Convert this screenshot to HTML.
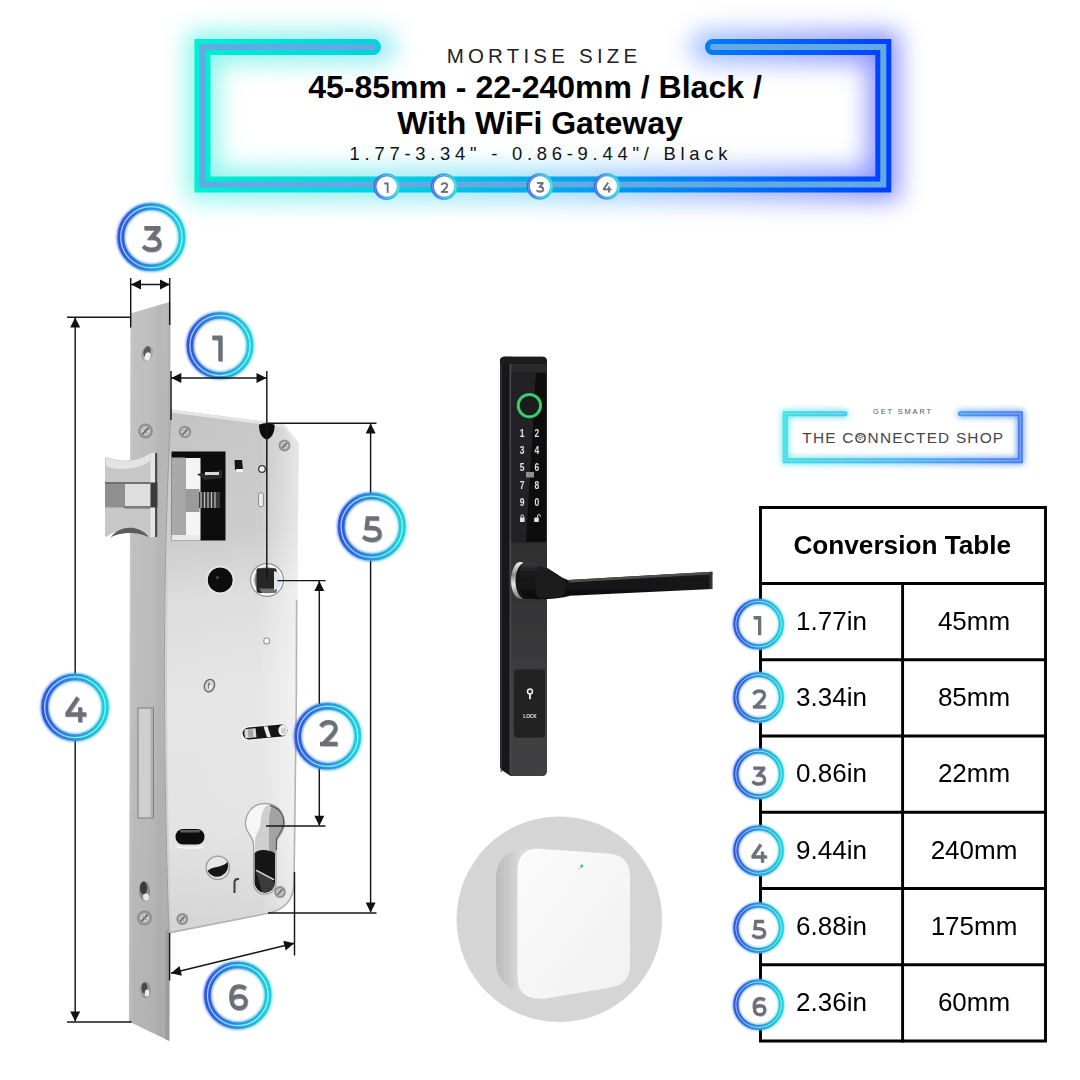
<!DOCTYPE html>
<html>
<head>
<meta charset="utf-8">
<title>Mortise Size</title>
<style>
html,body{margin:0;padding:0;background:#fff;}
body{width:1080px;height:1080px;position:relative;overflow:hidden;font-family:"Liberation Sans",sans-serif;color:#000;}
#gfx{position:absolute;left:0;top:0;width:1080px;height:1080px;}
.t{position:absolute;white-space:nowrap;line-height:1;}
.c{text-align:center;}
#h1{left:446.7px;top:45.5px;font-size:20.5px;letter-spacing:4.2px;color:#222;text-align:left;}
#h2{left:240px;width:590px;top:70.9px;font-size:32px;font-weight:bold;}
#h3{left:245px;width:590px;top:106.7px;font-size:32px;font-weight:bold;}
#h4{left:349.6px;top:144.8px;font-size:18.4px;letter-spacing:4.75px;color:#111;text-align:left;}
/* table */
#tbl{position:absolute;left:759px;top:506px;width:288px;height:536px;}
.ln{position:absolute;background:#000;}
.cell{font-size:26px;}
#th{left:793.4px;top:531.6px;font-size:26.2px;font-weight:bold;}
#lg1{left:842px;width:122px;top:407.5px;font-size:7.4px;letter-spacing:1.9px;color:#555;}
#lg2{left:790.3px;width:226px;top:430px;font-size:15.4px;letter-spacing:1.2px;color:#454545;}
</style>
</head>
<body>
<svg id="gfx" viewBox="0 0 1080 1080" width="1080" height="1080">
<defs>
  <linearGradient id="gF" gradientUnits="userSpaceOnUse" x1="195" y1="0" x2="891" y2="0">
    <stop offset="0" stop-color="#00f0d2"/>
    <stop offset="0.35" stop-color="#00c8e4"/>
    <stop offset="0.65" stop-color="#0090f2"/>
    <stop offset="1" stop-color="#0040ff"/>
  </linearGradient>
  <linearGradient id="gFg" gradientUnits="userSpaceOnUse" x1="195" y1="0" x2="891" y2="0">
    <stop offset="0" stop-color="#6ff5e6"/>
    <stop offset="0.45" stop-color="#7fdcf5"/>
    <stop offset="0.75" stop-color="#8aaaff"/>
    <stop offset="1" stop-color="#6f78ff"/>
  </linearGradient>
  <filter id="blur12" x="-20%" y="-40%" width="140%" height="180%"><feGaussianBlur stdDeviation="12.5"/></filter>
  <filter id="blur4" x="-20%" y="-40%" width="140%" height="180%"><feGaussianBlur stdDeviation="4"/></filter>

  <linearGradient id="gR" gradientUnits="userSpaceOnUse" x1="-35" y1="0" x2="35" y2="0">
    <stop offset="0" stop-color="#2c55e2"/>
    <stop offset="0.5" stop-color="#2b96df"/>
    <stop offset="1" stop-color="#24d2de"/>
  </linearGradient>
  <linearGradient id="gRl" gradientUnits="userSpaceOnUse" x1="-35" y1="0" x2="35" y2="0">
    <stop offset="0" stop-color="#a8c4ff"/>
    <stop offset="0.5" stop-color="#9fe6ff"/>
    <stop offset="1" stop-color="#8dffff"/>
  </linearGradient>
  <filter id="rb" x="-30%" y="-30%" width="160%" height="160%"><feGaussianBlur stdDeviation="1.6"/></filter>
  <filter id="rb2" x="-30%" y="-30%" width="160%" height="160%"><feGaussianBlur stdDeviation="0.7"/></filter>
  <g id="ring">
    <circle r="36" fill="#fff"/>
    <circle r="31" fill="none" stroke="url(#gR)" stroke-width="9.5" filter="url(#rb)" opacity="0.75"/>
    <circle r="31" fill="none" stroke="url(#gR)" stroke-width="6.6" filter="url(#rb2)"/>
    <circle r="31" fill="none" stroke="url(#gRl)" stroke-width="1.1"/>
  </g>
  <!-- digits: 100-unit cap height, origin top-left; stroke paths -->
  <g id="d1" fill="none" stroke-width="17" stroke-linejoin="miter" stroke-linecap="butt"><path d="M0 8.5 H34 V100"/></g>
  <g id="d2" fill="none" stroke-width="16.5" stroke-linejoin="miter" stroke-linecap="butt"><path d="M6 24 C14 12 26 7.5 40 7.5 C58 7.5 69 16 69 29 C69 39 63 47 52 58 L17 91.8 M3 91.8 H77"/></g>
  <g id="d3" fill="none" stroke-width="16.5" stroke-linejoin="miter" stroke-linecap="butt"><path d="M7 8.2 H66 V12 L36 45.5 H39 C60 45.5 71.5 55 71.5 69.5 C71.5 84 58 92.5 38 92.5 C23 92.5 10 87.5 2 79.5"/></g>
  <g id="d4" fill="none" stroke-width="16.5" stroke-linejoin="miter" stroke-linecap="butt"><path d="M53.5 4 L8 66 V70 H88 M62.5 42 V100"/></g>
  <g id="d5" fill="none" stroke-width="16.5" stroke-linejoin="miter" stroke-linecap="butt"><path d="M68 8.2 H20.5 L16 45.5 H36 C60 45.5 72 54.5 72 69.5 C72 84 58 92.5 38 92.5 C23 92.5 10 87.5 2 79.5"/></g>
  <g id="d6" fill="none" stroke-width="16.5" stroke-linejoin="miter" stroke-linecap="butt"><path d="M70 15 C62 9.5 53 7.5 43 7.5 C20 7.5 9 24 9 51 C9 78 22 92.5 43 92.5 C60 92.5 71 82.5 71 68.5 C71 54 60 45.5 44 45.5 C26 45.5 12 54 10 66"/></g>
</defs>

<!-- HEADER FRAME -->
<g id="frame">
  <path d="M380 47 H202.5 V184.5 H883.3 V47 H706" fill="none" stroke="url(#gFg)" stroke-width="32" stroke-linecap="round" stroke-linejoin="miter" filter="url(#blur12)" opacity="0.8"/>
  <path d="M373 47 H202.5 V184.5 H883.3 V47 H713" fill="none" stroke="url(#gF)" stroke-width="16" stroke-linecap="round" stroke-linejoin="miter"/>
  <path d="M373 47 H202.5 V184.5 H883.3 V47 H713" fill="none" stroke="#63a9e4" stroke-width="6" stroke-linecap="round" stroke-linejoin="miter"/>
</g>
<!-- MORTISE LOCK -->
<defs>
  <linearGradient id="gFaceV" x1="0" y1="0" x2="0" y2="1"><stop offset="0" stop-color="#000" stop-opacity="0"/><stop offset="0.5" stop-color="#000" stop-opacity="0.02"/><stop offset="1" stop-color="#000" stop-opacity="0.07"/></linearGradient>
  <linearGradient id="gFace" x1="0" y1="0" x2="1" y2="0">
    <stop offset="0" stop-color="#cdcdcd"/><stop offset="0.1" stop-color="#c2c2c2"/><stop offset="0.6" stop-color="#bebebe"/><stop offset="0.72" stop-color="#b7b7b7"/><stop offset="0.9" stop-color="#bababa"/><stop offset="1" stop-color="#adadad"/>
  </linearGradient>
  <linearGradient id="gBodyH" gradientUnits="userSpaceOnUse" x1="170" y1="0" x2="299" y2="0"><stop offset="0" stop-color="#fff" stop-opacity="0"/><stop offset="0.7" stop-color="#fff" stop-opacity="0.05"/><stop offset="1" stop-color="#fff" stop-opacity="0.55"/></linearGradient>
  <linearGradient id="gBody" gradientUnits="userSpaceOnUse" x1="200" y1="410" x2="240" y2="930">
    <stop offset="0" stop-color="#c4c4c4"/><stop offset="0.24" stop-color="#cbcbcb"/><stop offset="0.36" stop-color="#dddddd"/><stop offset="0.55" stop-color="#e5e5e5"/><stop offset="0.8" stop-color="#e3e3e3"/><stop offset="1" stop-color="#d4d4d4"/>
  </linearGradient>
  <linearGradient id="gLatch" x1="0" y1="0" x2="0" y2="1">
    <stop offset="0" stop-color="#d8d8d8"/><stop offset="0.45" stop-color="#bdbdbd"/><stop offset="0.55" stop-color="#c9c9c9"/><stop offset="1" stop-color="#a9a9a9"/>
  </linearGradient>
  <radialGradient id="gScrew"><stop offset="0" stop-color="#f2f2f2"/><stop offset="0.6" stop-color="#c8c8c8"/><stop offset="1" stop-color="#8f8f8f"/></radialGradient>
  <filter id="soft" x="-10%" y="-10%" width="120%" height="120%"><feGaussianBlur stdDeviation="0.6"/></filter>
  <g id="screw"><circle r="6.2" fill="#8f8f8f"/><circle r="5" fill="url(#gScrew)"/><path d="M-2.6 2.8 L2.6 -2.8" stroke="#6a6a6a" stroke-width="1.7" fill="none"/><path d="M-1.6 -1.8 L1.6 1.8" stroke="#8a8a8a" stroke-width="1.1" fill="none"/></g>
  <g id="chole"><ellipse rx="6.2" ry="9" fill="#a8a8a8"/><ellipse cx="-0.8" cy="-1.8" rx="3.8" ry="6" fill="#5a5a5a"/><ellipse cx="1.4" cy="3" rx="3" ry="4.6" fill="#f0f0f0"/></g>
  <path id="ah" d="M0 0 L-10 -5 L-10 5 Z" fill="#111"/>
</defs>
<g id="mortise" filter="url(#soft)">
  <!-- faceplate -->
  <path d="M130.4 313.6 L170.5 301.8 L169.3 1041 L128.9 1021.5 Z" fill="url(#gFace)"/>
  <path d="M130.4 313.6 L170.5 301.8 L169.3 1041 L128.9 1021.5 Z" fill="url(#gFaceV)"/>
  <path d="M165.2 930 L169.4 930 L169.3 1041 L165.2 1039 Z" fill="#999" opacity="0.85"/>
  <!-- body -->
  <path d="M171 409.5 L256 420.5 L283 424 L298.5 443.5 L297 700 L294.6 884 C294 901 284 910.5 268 914 L169.4 933.5 C167 880 165 800 164.5 700 C164 600 166 500 171 409.5 Z" fill="url(#gBody)"/>
  <path d="M171 409.5 L256 420.5 L283 424 L298.5 443.5 L297 700 L294.6 884 C294 901 284 910.5 268 914 L169.4 933.5 C167 880 165 800 164.5 700 C164 600 166 500 171 409.5 Z" fill="url(#gBodyH)"/>
  <path d="M170 411 L256 422 L283 425.5 L297.5 444" fill="none" stroke="#e4e4e4" stroke-width="3"/>
  <path d="M172 452 C167.5 520 165.8 600 166 700 C166.5 800 168.5 880 170.3 931" fill="none" stroke="#cfcfcf" stroke-width="2.2" opacity="0.9"/>
  <path d="M171 410 C166 500 164 600 164.5 700 C165 800 167 880 169.2 933" fill="none" stroke="#9f9f9f" stroke-width="1"/>
  <path d="M296.6 600 L296.3 700 L294 884 C293.4 900.5 283.5 909.8 268 913.3 L169.8 932.6" fill="none" stroke="#b4b4b4" stroke-width="1.6"/>
  <!-- latch bolt -->
  <g id="latch">
   <path d="M105 458.5 Q105 456.5 107 457.2 C118 462 138 462 150 453 L157.3 453 V536.8 L150 536.8 C138 527 118 528 107 536.5 Q105 537.2 105 535 Z" fill="#c7c7c7"/>
   <path d="M106 457.5 C118 463 138 462.5 150 453.5 L150 461 C138 470 118 470.5 106 466.5 Z" fill="#e3e3e3"/>
   <rect x="105" y="482.5" width="46" height="25" fill="#8f8f8f"/>
   <rect x="125" y="484" width="25.5" height="22.5" fill="#dedede"/>
   <rect x="105" y="482" width="46" height="2" fill="#707070"/>
   <rect x="124" y="506" width="27" height="2.6" fill="#7a7a7a"/>
   <path d="M111 537 C120 525.5 138 524.5 148 536 L148 537 C138 531.5 120 532 111 537.5Z" fill="#5c5c5c"/>
   <rect x="150.5" y="453" width="4.6" height="84" fill="#e6e6e6"/>
   <rect x="155" y="453" width="2.3" height="84" fill="#4d4d4d"/>
   <rect x="150.5" y="482.5" width="6.8" height="25" fill="#3a3a3a"/>
  </g>
  <!-- deadbolt slot in faceplate -->
  <rect x="138" y="708" width="15.5" height="110" fill="#cfcfcf" stroke="#7d7d7d" stroke-width="1"/>
  <rect x="150.5" y="709" width="2.5" height="108" fill="#b0b0b0"/>
  <!-- faceplate screws/holes -->
  <use href="#chole" transform="translate(147.2 353.5) rotate(18) scale(0.92)"/>
  <use href="#screw" transform="translate(145.5 431) scale(1.2)"/>
  <ellipse cx="144.5" cy="891" rx="5.5" ry="10" fill="#8a8a8a"/><ellipse cx="143.5" cy="888" rx="3.6" ry="6.5" fill="#3a3a3a"/><ellipse cx="146" cy="897" rx="3" ry="3.4" fill="#e8e8e8"/>
  <use href="#screw" transform="translate(144.5 918) scale(1.2)"/>
  <ellipse cx="145.5" cy="990" rx="5.5" ry="8.5" fill="#9a9a9a"/><ellipse cx="144.5" cy="988" rx="3" ry="5.5" fill="#4a4a4a"/><ellipse cx="147" cy="993" rx="2.2" ry="3.6" fill="#ececec"/>
  <!-- big opening -->
  <rect x="171.5" y="451.5" width="54" height="89" fill="#0c0c0c"/>
  <rect x="171.5" y="457.5" width="14" height="78" fill="#a9a9a9"/>
  <rect x="185.5" y="458" width="15" height="77" fill="#f4f4f4"/>
  <rect x="185.5" y="489" width="14" height="23" fill="#9b9b9b"/>
  <rect x="199" y="492" width="21" height="16" fill="#3a3a3a"/>
  <path d="M201 492 V508 M204.5 492 V508 M208 492 V508 M211.5 492 V508 M215 492 V508" stroke="#bdbdbd" stroke-width="1.2"/>
  <path d="M197 474 L222 470 L222 478 L205 480 Z" fill="#2a2a2a"/>
  <rect x="205" y="472" width="14" height="3" fill="#d9d9d9"/>
  <rect x="171.5" y="535" width="29" height="5.5" fill="#e9e9e9"/>
  <!-- small holes -->
  <path d="M234.5 460 H242 L243 470 H235 Z" fill="#161616"/><path d="M236 469 H243 V472 H236.5Z" fill="#efefef"/>
  <circle cx="262" cy="469" r="3.3" fill="#f2f2f2" stroke="#3b3b3b" stroke-width="1.3"/>
  <rect x="258.5" y="493" width="4.8" height="13.5" rx="1" fill="#ececec" stroke="#8d8d8d" stroke-width="1"/>
  <!-- body screws -->
  <use href="#screw" transform="translate(185 432)"/>
  <use href="#screw" transform="translate(284.5 445.5) scale(0.95)"/>
  <g transform="translate(209.4 685.6) rotate(20)"><ellipse rx="5" ry="6.4" fill="#d4d4d4" stroke="#6a6a6a" stroke-width="1.4"/><path d="M-1.4 -2.6 L0.6 3" stroke="#808080" stroke-width="1.8"/><ellipse cx="1.6" cy="1" rx="1.4" ry="2.4" fill="#f4f4f4"/></g>
  <use href="#screw" transform="translate(182.3 919) scale(0.95)"/>
  <use href="#screw" transform="translate(280 892) scale(0.95)"/>
  <circle cx="266.7" cy="641" r="3" fill="#f6f6f6" stroke="#9a9a9a" stroke-width="1.1"/>
  <!-- top notch -->
  <path d="M259 424.8 Q266.7 421.2 274.6 424.8 C274.8 433 271.5 438.3 266.8 439.6 C262 438.3 258.8 433 259 424.8 Z" fill="#111"/>
  <!-- follower hole -->
  <circle cx="220.2" cy="580" r="12.5" fill="#0d0d0d"/><circle cx="217.5" cy="577.5" r="1.6" fill="#4a4a4a"/>
  <!-- spindle hub -->
  <circle cx="267" cy="580" r="16.4" fill="#f7f7f7" stroke="#8e8e8e" stroke-width="1.1"/>
  <circle cx="267" cy="580" r="13.2" fill="#8a8a8a"/>
  <circle cx="267" cy="580" r="13.2" fill="none" stroke="#d9d9d9" stroke-width="1"/>
  <path d="M258 568.2 H274.5 Q276.5 568.2 276.5 570.2 V590 Q276.5 593 273.5 593 H260 Q256.5 593 256.5 590 V570.2 Q256.5 568.2 258 568.2Z" fill="#262626"/>
  <path d="M259 588.5 H276.5 V591 Q276.5 593 273.5 593 H262Z" fill="#6f6f6f"/>
  <path d="M274 571 Q281.5 573 281.5 580 Q281.5 588 274 590 Z" fill="#dfe6f0"/>
  <circle cx="220.2" cy="580" r="13.4" fill="none" stroke="#e9e9e9" stroke-width="1.4"/>
  <!-- slot with lever -->
  <g transform="rotate(-5 265 732)">
  <rect x="240.8" y="724.6" width="48.4" height="14.8" rx="7.4" fill="#f2f2f2"/>
  <rect x="242.6" y="726" width="45" height="12" rx="6" fill="#151515"/>
  <path d="M245 727.5 H256 V736.5 H245 Q243.5 732 245 727.5Z" fill="#dadada"/>
  <rect x="248" y="728" width="5" height="8" fill="#a5a5a5"/>
  <path d="M264 726.5 L268 726.5 L270.5 737.5 L266.5 737.5Z" fill="#ececec"/>
  <ellipse cx="283" cy="732" rx="4.6" ry="5.4" fill="#f3f3f3"/>
  <ellipse cx="283.6" cy="732.4" rx="2.6" ry="3.4" fill="#d0d0d0"/>
  </g>
  <!-- small black slot -->
  <rect x="175.5" y="829" width="29" height="15.5" rx="7.5" fill="#101010"/>
  <rect x="180" y="830" width="20" height="2.6" rx="1.3" fill="#5a5a5a"/>
  <!-- round hole -->
  <circle cx="217.8" cy="867.8" r="12.3" fill="#9a9a9a"/>
  <circle cx="217.8" cy="867.8" r="11" fill="#e6e6e6"/>
  <path d="M207.5 871 C212 866 222 868 227.5 862 A11 11 0 0 1 207.5 871Z" fill="#141414"/>
  <path d="M234.5 893 V882.5 Q234.5 878.5 239 879" fill="none" stroke="#3a3a3a" stroke-width="2"/>
  <!-- euro cylinder hole -->
  <path d="M265.2 803.5 A19.3 19.3 0 0 1 281.5 833 C277.5 837.5 276 841 276 846 V883 A11.2 11.2 0 0 1 253.6 883 V846 C253.6 841 252 837.5 248.5 833 A19.3 19.3 0 0 1 265.2 803.5 Z" fill="#f6f6f6" stroke="#a2a2a2" stroke-width="1.3"/>
  <path d="M268 805 C277 806.5 283 813.5 283 822 C283 829 279 833 276 838.5 V852 H255 V841 C255 835 259 831 260.5 825 C261 815 262.5 808 268 805Z" fill="#cfcfcf"/>
  <path d="M272 806.5 C279 809.5 283 815 283 822 C283 829 279 833 276 838.5 V852 L269 852 V828 C269 818 269.5 811 272 806.5Z" fill="#a3a3a3"/>
  <path d="M270 805.5 C279.5 808 284 815 283.6 823 C283 830 279 834 276.4 839 V850" fill="none" stroke="#5a5a5a" stroke-width="1.3"/>
  <path d="M254.6 853 C259 848 270 850 275 853 V882.5 A10.2 10.2 0 0 1 254.6 882.5Z" fill="#121212"/>
  <path d="M256 872 C262 874 269 878 274 882 A9.4 9.4 0 0 1 262 892 Z" fill="#3a3a3a"/>
  <path d="M256.5 870.5 L273.5 879.5" stroke="#cfcfcf" stroke-width="1.6" stroke-linecap="round"/>
  <path d="M176 846.5 Q190 849.5 204 846.5" fill="none" stroke="#f4f4f4" stroke-width="2"/>
</g>
<!-- DIMENSIONS -->
<g id="dims" stroke="#161616" stroke-width="1.45" fill="none">
  <path d="M130.7 278 V327.4 M169.7 278 V325 M131 284.4 H170"/>
  <path d="M67 317.3 H130.5 M67 1022 H131.5 M75.2 318 V1021"/>
  <path d="M171 371 V420 M266.8 371 V579"/>
  <path d="M267 423.3 H376.5 M268 913 H376.5 M370.6 424 V912"/>
  <path d="M277.5 580.6 H325.5 M266 826 H325.5 M319.3 581 V825"/>
  <path d="M169.6 933 V980.5 M294.5 872 V955.5 M171 973.3 L294.2 943.3"/>
</g>
<g id="arrows">
  <use href="#ah" transform="translate(131 284.4) rotate(180)"/><use href="#ah" transform="translate(170 284.4)"/>
  <use href="#ah" transform="translate(75.2 317.6) rotate(-90)"/><use href="#ah" transform="translate(75.2 1021.6) rotate(90)"/>
  
  <use href="#ah" transform="translate(370.6 423.6) rotate(-90)"/><use href="#ah" transform="translate(370.6 912.6) rotate(90)"/>
  <use href="#ah" transform="translate(319.3 581) rotate(-90)"/><use href="#ah" transform="translate(319.3 825.7) rotate(90)"/>
  <use href="#ah" transform="translate(171 973.3) rotate(166.3)"/><use href="#ah" transform="translate(294.2 943.3) rotate(-13.7)"/>
</g>
<!-- SMART LOCK -->
<defs>
  <linearGradient id="gSL" x1="0" y1="0" x2="1" y2="0"><stop offset="0" stop-color="#4a4b4e"/><stop offset="0.08" stop-color="#2c2d30"/><stop offset="0.2" stop-color="#3b3c3f"/><stop offset="1" stop-color="#2e2f32"/></linearGradient>
  <linearGradient id="gSLv" x1="0" y1="0" x2="0" y2="1"><stop offset="0" stop-color="#2a2a2c"/><stop offset="0.5" stop-color="#303032"/><stop offset="0.75" stop-color="#3b3b3d"/><stop offset="1" stop-color="#414143"/></linearGradient>
  <linearGradient id="gLever" x1="0" y1="0" x2="0" y2="1"><stop offset="0" stop-color="#3a3a3c"/><stop offset="0.25" stop-color="#1c1c1e"/><stop offset="1" stop-color="#0c0c0d"/></linearGradient>
  <linearGradient id="gChrome" x1="0" y1="0" x2="0" y2="1"><stop offset="0" stop-color="#f4f4f4"/><stop offset="0.35" stop-color="#8a8a8a"/><stop offset="0.6" stop-color="#e8e8e8"/><stop offset="1" stop-color="#6e6e6e"/></linearGradient>
</defs>
<g id="smartlock" filter="url(#soft)">
  <rect x="500" y="356.7" width="47" height="419.3" rx="4.5" fill="url(#gSLv)"/>
  <path d="M504.5 356.7 H511 V776 H504.5 Q500 776 500 771.5 V361.2 Q500 356.7 504.5 356.7Z" fill="#19191a"/><path d="M499 767 H500 Q500.6 769.6 503 771 L511.5 776.4 V778 H499Z" fill="#fff"/>
  <rect x="509.6" y="360" width="1.6" height="414" fill="#4b4b4d"/>
  <rect x="500.6" y="362" width="1.2" height="410" fill="#3a3a3c"/>
  <path d="M504 356.7 H542.5 Q547 356.7 547 361.2 V364 H500 V361.2 Q500 356.7 504 356.7Z" fill="#1c1c1d"/>
  <rect x="511.7" y="372.8" width="34.4" height="169.5" rx="1" fill="#0a0a0b"/>
  <path d="M511.7 372.8 H536 L526 542.3 H511.7Z" fill="#242425"/>
  <!-- fingerprint -->
  <circle cx="529.4" cy="405.6" r="11.2" fill="#1b1b1c" stroke="#2bc566" stroke-width="3"/>
  <circle cx="529.4" cy="405.6" r="11.2" fill="none" stroke="#5fe08f" stroke-width="0.9" opacity="0.7"/>
  <!-- keypad -->
  <g font-family="Liberation Sans, sans-serif" font-size="10.4" fill="#e2e2e2" text-anchor="middle" font-weight="bold">
    <g transform="translate(522.2 0) scale(0.82 1)"><text x="0" y="437.1">1</text><text x="0" y="454.4">3</text><text x="0" y="471.5">5</text><text x="0" y="488.7">7</text><text x="0" y="505.7">9</text></g>
    <g transform="translate(536.8 0) scale(0.82 1)"><text x="0" y="437.1">2</text><text x="0" y="454.4">4</text><text x="0" y="471.5">6</text><text x="0" y="488.7">8</text><text x="0" y="505.7">0</text></g>
  </g>
  <rect x="526" y="472" width="8" height="5.5" fill="#8f8f8f"/>
  <rect x="520" y="517.5" width="4.6" height="4.6" rx="0.6" fill="#e0e0e0"/><path d="M521 517.8 V516.2 A1.3 1.3 0 0 1 523.6 516.2 V517.8" fill="none" stroke="#e0e0e0" stroke-width="1"/>
  <rect x="534.2" y="517.5" width="4.6" height="4.6" rx="0.6" fill="#e0e0e0"/><path d="M537.6 517.6 V515.8 A1.3 1.3 0 0 1 540.2 515.8 V516.8" fill="none" stroke="#e0e0e0" stroke-width="1"/>
  <!-- bottom panel -->
  <rect x="514" y="669.5" width="31" height="68" rx="3" fill="#212123"/>
  <circle cx="530" cy="691.5" r="2.5" fill="#333" stroke="#f0f0f0" stroke-width="1.4"/><rect x="529.1" y="694" width="1.8" height="5.2" fill="#f0f0f0"/>
  <text x="530" y="718.2" font-family="Liberation Sans, sans-serif" font-weight="bold" font-size="4.8" fill="#e6e6e6" text-anchor="middle">LOCK</text>
  <!-- handle -->
  <ellipse cx="520.5" cy="580.5" rx="9.5" ry="18.5" fill="url(#gChrome)"/>
  <ellipse cx="525" cy="580.8" rx="9.5" ry="17.8" fill="#141415"/>
  <path d="M523 563.3 C533 562.5 540 563.5 546 567 L562 577.5 L568 580 L712.3 571.8 V589 L570 595.8 C560 599 540 600 526 598.6 C518 594 517 568 523 563.3 Z" fill="url(#gLever)"/>
  <path d="M568 580 L712.3 571.8 V574.2 L569 582.6Z" fill="#4e4e50"/>
  <path d="M538 566 C546 568 556 573 563 578.5 C566 584 566 590 563 596 C556 598 546 598.5 538 598 C534 588 534 576 538 566Z" fill="#1d1d1e"/>
  <rect x="709.4" y="572" width="2.9" height="17" fill="#303032"/>
</g>
<!-- GATEWAY -->
<defs>
  <linearGradient id="gGwS" x1="0" y1="0" x2="1" y2="0"><stop offset="0" stop-color="#bcbcbc"/><stop offset="0.25" stop-color="#c9c9c9"/><stop offset="0.5" stop-color="#dcdcdc"/><stop offset="1" stop-color="#e6e6e6"/></linearGradient>
  <linearGradient id="gGwF" x1="0" y1="0" x2="1" y2="1"><stop offset="0" stop-color="#fbfbfb"/><stop offset="1" stop-color="#f1f1f1"/></linearGradient>
</defs>
<g id="gateway" filter="url(#soft)">
  <circle cx="559.3" cy="919.3" r="102.8" fill="#d5d5d5"/>
  <path d="M526 849.3 C506 850.5 496 860 496 879 V961 C496 978 505 988 522 993 L546 999 L541 848.7 Z" fill="url(#gGwS)"/>
  <path d="M540 848.7 L608 853.5 C623 854.5 630 862 630 877 V965 C630 979 623 985.5 609 987.7 L546 998.5 C527 1000.5 517.5 993 517.5 976 V871 C517.5 855 526 848 540 848.7 Z" fill="url(#gGwF)"/>
  <path d="M519 870 C519 857 527 850.5 540 850.5" fill="none" stroke="#fff" stroke-width="2" opacity="0.8"/>
  <path d="M578.5 869.5 L581.5 866.5" stroke="#cfcfcf" stroke-width="1.2"/>
  <circle cx="581.8" cy="866" r="1.4" fill="#2bbf9a"/>
</g>
<!-- LOGO -->
<defs>
  <linearGradient id="gLg" gradientUnits="userSpaceOnUse" x1="783" y1="0" x2="1023" y2="0"><stop offset="0" stop-color="#3fe0e4"/><stop offset="0.5" stop-color="#4fb4ee"/><stop offset="1" stop-color="#4a7cf0"/></linearGradient>
  <filter id="lgb" x="-10%" y="-40%" width="120%" height="180%"><feGaussianBlur stdDeviation="3"/></filter>
</defs>
<g id="logo">
  <path d="M845 413.7 H785.3 V460.7 H1020.3 V413.7 H960.5" fill="none" stroke="url(#gLg)" stroke-width="7" stroke-linecap="round" filter="url(#lgb)" opacity="0.75"/>
  <path d="M845 413.7 H785.3 V460.7 H1020.3 V413.7 H960.5" fill="none" stroke="url(#gLg)" stroke-width="5" stroke-linecap="round"/>
  <path d="M845 413.7 H785.3 V460.7 H1020.3 V413.7 H960.5" fill="none" stroke="#bfe6fa" stroke-width="1.2" stroke-linecap="round" opacity="0.4"/>
</g>
</svg>

<div class="t c" id="h1">MORTISE SIZE</div>
<div class="t c" id="h2">45-85mm - 22-240mm / Black /</div>
<div class="t c" id="h3">With WiFi Gateway</div>
<div class="t c" id="h4">1.77-3.34" - 0.86-9.44"/ Black</div>

<div class="t c" id="lg1">GET SMART</div>
<div class="t c" id="lg2">THE CONNECTED SHOP</div>
<!-- TABLE -->
<svg class="ov" viewBox="0 0 1080 1080" width="1080" height="1080" style="position:absolute;left:0;top:0">
<g stroke="#000" stroke-width="2.9" fill="none" stroke-linecap="square">
<path d="M760.5 507.5 H1045.5 V1041 H760.5 Z"/>
<path d="M760.5 583.50 H1045.5"/>
<path d="M760.5 659.75 H1045.5"/>
<path d="M760.5 736.00 H1045.5"/>
<path d="M760.5 812.25 H1045.5"/>
<path d="M760.5 888.50 H1045.5"/>
<path d="M760.5 964.75 H1045.5"/>
<path d="M902.6 583.5 V1041"/>
</g>
</svg>
<div class="t" id="th">Conversion Table</div>
<div class="t c cell" style="left:762px;width:139px;top:607.9px">1.77in</div>
<div class="t c cell" style="left:904px;width:140px;top:607.9px">45mm</div>
<div class="t c cell" style="left:762px;width:139px;top:684.2px">3.34in</div>
<div class="t c cell" style="left:904px;width:140px;top:684.2px">85mm</div>
<div class="t c cell" style="left:762px;width:139px;top:760.4px">0.86in</div>
<div class="t c cell" style="left:904px;width:140px;top:760.4px">22mm</div>
<div class="t c cell" style="left:762px;width:139px;top:836.8px">9.44in</div>
<div class="t c cell" style="left:904px;width:140px;top:836.8px">240mm</div>
<div class="t c cell" style="left:762px;width:139px;top:912.9px">6.88in</div>
<div class="t c cell" style="left:904px;width:140px;top:912.9px">175mm</div>
<div class="t c cell" style="left:762px;width:139px;top:989.2px">2.36in</div>
<div class="t c cell" style="left:904px;width:140px;top:989.2px">60mm</div>

<!-- CIRCLES -->
<svg viewBox="0 0 1080 1080" width="1080" height="1080" style="position:absolute;left:0;top:0">
<defs>
<linearGradient id="cR"><stop offset="0" stop-color="#2c58e0"/><stop offset="0.5" stop-color="#2a96dc"/><stop offset="1" stop-color="#24ccda"/></linearGradient>
<linearGradient id="cL"><stop offset="0" stop-color="#a9c6ff"/><stop offset="0.5" stop-color="#8fe8ff"/><stop offset="1" stop-color="#7dffff"/></linearGradient>
<filter id="faA" x="-30%" y="-30%" width="160%" height="160%"><feGaussianBlur stdDeviation="1.25"/></filter>
<filter id="fbA" x="-30%" y="-30%" width="160%" height="160%"><feGaussianBlur stdDeviation="0.60"/></filter>
<filter id="faB" x="-30%" y="-30%" width="160%" height="160%"><feGaussianBlur stdDeviation="0.94"/></filter>
<filter id="fbB" x="-30%" y="-30%" width="160%" height="160%"><feGaussianBlur stdDeviation="0.45"/></filter>
<filter id="faC" x="-30%" y="-30%" width="160%" height="160%"><feGaussianBlur stdDeviation="0.48"/></filter>
<filter id="fbC" x="-30%" y="-30%" width="160%" height="160%"><feGaussianBlur stdDeviation="0.30"/></filter>
</defs>
<circle cx="151.4" cy="237.2" r="33.81" fill="#fff"/><circle cx="151.4" cy="237.2" r="30.65" fill="none" stroke="url(#cR)" stroke-width="8.50" filter="url(#faA)" opacity="0.7"/><circle cx="151.4" cy="237.2" r="30.65" fill="none" stroke="url(#cR)" stroke-width="6.52" filter="url(#fbA)"/><circle cx="151.4" cy="237.2" r="30.65" fill="none" stroke="url(#cL)" stroke-width="1.29"/><g transform="translate(142.65 226.00) scale(0.2355 0.2560)"><use href="#d3" stroke="#9aa6cc" transform="translate(3.2 3.2)"/><use href="#d3" stroke="#6d6f75"/></g>
<circle cx="220.0" cy="345.5" r="33.22" fill="#fff"/><circle cx="220.0" cy="345.5" r="30.11" fill="none" stroke="url(#cR)" stroke-width="8.35" filter="url(#faA)" opacity="0.7"/><circle cx="220.0" cy="345.5" r="30.11" fill="none" stroke="url(#cR)" stroke-width="6.41" filter="url(#fbA)"/><circle cx="220.0" cy="345.5" r="30.11" fill="none" stroke="url(#cL)" stroke-width="1.26"/><g transform="translate(212.25 335.50) scale(0.2355 0.2560)"><use href="#d1" stroke="#9aa6cc" transform="translate(3.2 3.2)"/><use href="#d1" stroke="#6d6f75"/></g>
<circle cx="371.7" cy="526.7" r="33.81" fill="#fff"/><circle cx="371.7" cy="526.7" r="30.65" fill="none" stroke="url(#cR)" stroke-width="8.50" filter="url(#faA)" opacity="0.7"/><circle cx="371.7" cy="526.7" r="30.65" fill="none" stroke="url(#cR)" stroke-width="6.52" filter="url(#fbA)"/><circle cx="371.7" cy="526.7" r="30.65" fill="none" stroke="url(#cL)" stroke-width="1.29"/><g transform="translate(362.75 516.20) scale(0.2355 0.2560)"><use href="#d5" stroke="#9aa6cc" transform="translate(3.2 3.2)"/><use href="#d5" stroke="#6d6f75"/></g>
<circle cx="75.0" cy="707.3" r="33.52" fill="#fff"/><circle cx="75.0" cy="707.3" r="30.38" fill="none" stroke="url(#cR)" stroke-width="8.43" filter="url(#faA)" opacity="0.7"/><circle cx="75.0" cy="707.3" r="30.38" fill="none" stroke="url(#cR)" stroke-width="6.47" filter="url(#fbA)"/><circle cx="75.0" cy="707.3" r="30.38" fill="none" stroke="url(#cL)" stroke-width="1.27"/><g transform="translate(65.35 696.50) scale(0.2355 0.2560)"><use href="#d4" stroke="#9aa6cc" transform="translate(3.2 3.2)"/><use href="#d4" stroke="#6d6f75"/></g>
<circle cx="327.8" cy="736.3" r="33.22" fill="#fff"/><circle cx="327.8" cy="736.3" r="30.11" fill="none" stroke="url(#cR)" stroke-width="8.35" filter="url(#faA)" opacity="0.7"/><circle cx="327.8" cy="736.3" r="30.11" fill="none" stroke="url(#cR)" stroke-width="6.41" filter="url(#fbA)"/><circle cx="327.8" cy="736.3" r="30.11" fill="none" stroke="url(#cL)" stroke-width="1.26"/><g transform="translate(319.27 720.30) scale(0.2355 0.2560)"><use href="#d2" stroke="#9aa6cc" transform="translate(3.2 3.2)"/><use href="#d2" stroke="#6d6f75"/></g>
<circle cx="237.8" cy="995.3" r="33.52" fill="#fff"/><circle cx="237.8" cy="995.3" r="30.38" fill="none" stroke="url(#cR)" stroke-width="8.43" filter="url(#faA)" opacity="0.7"/><circle cx="237.8" cy="995.3" r="30.38" fill="none" stroke="url(#cR)" stroke-width="6.47" filter="url(#fbA)"/><circle cx="237.8" cy="995.3" r="30.38" fill="none" stroke="url(#cL)" stroke-width="1.27"/><g transform="translate(229.00 984.50) scale(0.2355 0.2560)"><use href="#d6" stroke="#9aa6cc" transform="translate(3.2 3.2)"/><use href="#d6" stroke="#6d6f75"/></g>
<circle cx="758.6" cy="624.1" r="25.11" fill="#fff"/><circle cx="758.6" cy="624.1" r="22.76" fill="none" stroke="url(#cR)" stroke-width="6.31" filter="url(#faB)" opacity="0.7"/><circle cx="758.6" cy="624.1" r="22.76" fill="none" stroke="url(#cR)" stroke-width="4.85" filter="url(#fbB)"/><circle cx="758.6" cy="624.1" r="22.76" fill="none" stroke="url(#cL)" stroke-width="0.95"/><g transform="translate(753.55 616.05) scale(0.1739 0.1890)"><use href="#d1" stroke="#9aa6cc" transform="translate(3.2 3.2)"/><use href="#d1" stroke="#6d6f75"/></g>
<circle cx="758.6" cy="697.4" r="25.11" fill="#fff"/><circle cx="758.6" cy="697.4" r="22.76" fill="none" stroke="url(#cR)" stroke-width="6.31" filter="url(#faB)" opacity="0.7"/><circle cx="758.6" cy="697.4" r="22.76" fill="none" stroke="url(#cR)" stroke-width="4.85" filter="url(#fbB)"/><circle cx="758.6" cy="697.4" r="22.76" fill="none" stroke="url(#cL)" stroke-width="0.95"/><g transform="translate(752.28 689.45) scale(0.1739 0.1890)"><use href="#d2" stroke="#9aa6cc" transform="translate(3.2 3.2)"/><use href="#d2" stroke="#6d6f75"/></g>
<circle cx="758.6" cy="773.9" r="25.11" fill="#fff"/><circle cx="758.6" cy="773.9" r="22.76" fill="none" stroke="url(#cR)" stroke-width="6.31" filter="url(#faB)" opacity="0.7"/><circle cx="758.6" cy="773.9" r="22.76" fill="none" stroke="url(#cR)" stroke-width="4.85" filter="url(#fbB)"/><circle cx="758.6" cy="773.9" r="22.76" fill="none" stroke="url(#cL)" stroke-width="0.95"/><g transform="translate(751.99 766.45) scale(0.1739 0.1890)"><use href="#d3" stroke="#9aa6cc" transform="translate(3.2 3.2)"/><use href="#d3" stroke="#6d6f75"/></g>
<circle cx="758.6" cy="850.6" r="25.11" fill="#fff"/><circle cx="758.6" cy="850.6" r="22.76" fill="none" stroke="url(#cR)" stroke-width="6.31" filter="url(#faB)" opacity="0.7"/><circle cx="758.6" cy="850.6" r="22.76" fill="none" stroke="url(#cR)" stroke-width="4.85" filter="url(#fbB)"/><circle cx="758.6" cy="850.6" r="22.76" fill="none" stroke="url(#cL)" stroke-width="0.95"/><g transform="translate(751.44 843.55) scale(0.1739 0.1890)"><use href="#d4" stroke="#9aa6cc" transform="translate(3.2 3.2)"/><use href="#d4" stroke="#6d6f75"/></g>
<circle cx="758.6" cy="927.8" r="25.11" fill="#fff"/><circle cx="758.6" cy="927.8" r="22.76" fill="none" stroke="url(#cR)" stroke-width="6.31" filter="url(#faB)" opacity="0.7"/><circle cx="758.6" cy="927.8" r="22.76" fill="none" stroke="url(#cR)" stroke-width="4.85" filter="url(#fbB)"/><circle cx="758.6" cy="927.8" r="22.76" fill="none" stroke="url(#cL)" stroke-width="0.95"/><g transform="translate(751.99 919.85) scale(0.1739 0.1890)"><use href="#d5" stroke="#9aa6cc" transform="translate(3.2 3.2)"/><use href="#d5" stroke="#6d6f75"/></g>
<circle cx="758.6" cy="1004.7" r="25.11" fill="#fff"/><circle cx="758.6" cy="1004.7" r="22.76" fill="none" stroke="url(#cR)" stroke-width="6.31" filter="url(#faB)" opacity="0.7"/><circle cx="758.6" cy="1004.7" r="22.76" fill="none" stroke="url(#cR)" stroke-width="4.85" filter="url(#fbB)"/><circle cx="758.6" cy="1004.7" r="22.76" fill="none" stroke="url(#cL)" stroke-width="0.95"/><g transform="translate(752.43 997.05) scale(0.1739 0.1890)"><use href="#d6" stroke="#9aa6cc" transform="translate(3.2 3.2)"/><use href="#d6" stroke="#6d6f75"/></g>
<circle cx="386.7" cy="186.6" r="13.00" fill="#fff"/><circle cx="386.7" cy="186.6" r="11.78" fill="none" stroke="url(#cR)" stroke-width="3.27" filter="url(#faC)" opacity="0.7"/><circle cx="386.7" cy="186.6" r="11.78" fill="none" stroke="url(#cR)" stroke-width="2.13" filter="url(#fbC)"/><circle cx="386.7" cy="186.6" r="11.78" fill="none" stroke="url(#cL)" stroke-width="0.60"/><g transform="translate(384.31 182.45) scale(0.0948 0.1030)"><use href="#d1" stroke="#9aa6cc" transform="translate(3.2 3.2)"/><use href="#d1" stroke="#6d6f75"/></g>
<circle cx="444.1" cy="186.6" r="13.00" fill="#fff"/><circle cx="444.1" cy="186.6" r="11.78" fill="none" stroke="url(#cR)" stroke-width="3.27" filter="url(#faC)" opacity="0.7"/><circle cx="444.1" cy="186.6" r="11.78" fill="none" stroke="url(#cR)" stroke-width="2.13" filter="url(#fbC)"/><circle cx="444.1" cy="186.6" r="11.78" fill="none" stroke="url(#cL)" stroke-width="0.60"/><g transform="translate(440.55 182.35) scale(0.0948 0.1030)"><use href="#d2" stroke="#9aa6cc" transform="translate(3.2 3.2)"/><use href="#d2" stroke="#6d6f75"/></g>
<circle cx="539.9" cy="186.3" r="13.00" fill="#fff"/><circle cx="539.9" cy="186.3" r="11.78" fill="none" stroke="url(#cR)" stroke-width="3.27" filter="url(#faC)" opacity="0.7"/><circle cx="539.9" cy="186.3" r="11.78" fill="none" stroke="url(#cR)" stroke-width="2.13" filter="url(#fbC)"/><circle cx="539.9" cy="186.3" r="11.78" fill="none" stroke="url(#cL)" stroke-width="0.60"/><g transform="translate(536.30 182.05) scale(0.0948 0.1030)"><use href="#d3" stroke="#9aa6cc" transform="translate(3.2 3.2)"/><use href="#d3" stroke="#6d6f75"/></g>
<circle cx="606.9" cy="186.3" r="13.00" fill="#fff"/><circle cx="606.9" cy="186.3" r="11.78" fill="none" stroke="url(#cR)" stroke-width="3.27" filter="url(#faC)" opacity="0.7"/><circle cx="606.9" cy="186.3" r="11.78" fill="none" stroke="url(#cR)" stroke-width="2.13" filter="url(#fbC)"/><circle cx="606.9" cy="186.3" r="11.78" fill="none" stroke="url(#cL)" stroke-width="0.60"/><g transform="translate(602.98 182.05) scale(0.0948 0.1030)"><use href="#d4" stroke="#9aa6cc" transform="translate(3.2 3.2)"/><use href="#d4" stroke="#6d6f75"/></g>
<g stroke="#161616" stroke-width="1.45" fill="none"><path d="M171 378 H266.8"/></g>
<path d="M171.3 378 l10 -5 v10 z M266.5 378 l-10 -5 v10 z" fill="#111"/>
<g fill="none" stroke="#4a4a4a" stroke-width="0.8" stroke-linecap="round"><path d="M857.2 436.6 Q860.3 434 863.4 436.6"/><path d="M858.3 438.1 Q860.3 436.5 862.3 438.1"/></g><circle cx="860.3" cy="439.6" r="0.8" fill="#4a4a4a"/>
</svg>
</body>
</html>
